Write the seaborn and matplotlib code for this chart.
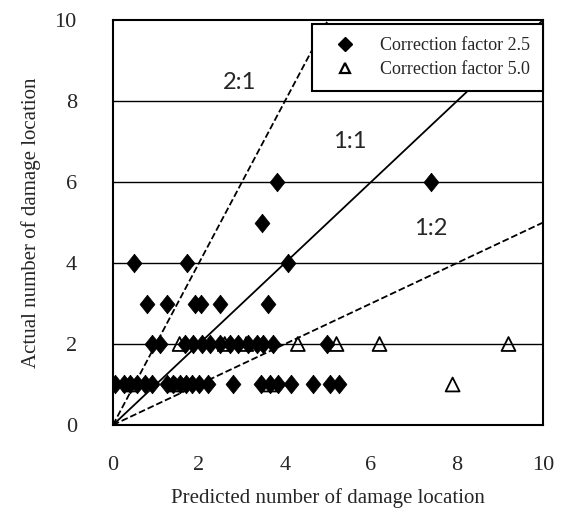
import numpy as np
import pandas as pd
import seaborn as sns
import matplotlib
matplotlib.use("Agg")
import matplotlib.pyplot as plt
from matplotlib.lines import Line2D

# Correction factor 2.5 (filled diamonds)
cf25_x = [0.05, 0.25, 0.4, 0.55, 0.75, 0.9, 1.25, 1.4, 1.55, 1.7, 1.85, 2.0, 2.2,
          2.8, 3.45, 3.65, 3.85, 4.15, 4.65, 5.05, 5.25,
          0.9, 1.1, 1.67, 1.86, 2.07, 2.26, 2.49, 2.72, 2.91, 3.14, 3.35, 3.49, 3.72, 4.97,
          0.8, 1.25, 1.9, 2.05, 2.5, 3.6,
          0.5, 1.72, 4.07,
          3.47,
          3.81, 7.4]
cf25_y = [1] * 21 + [2] * 14 + [3] * 6 + [4] * 3 + [5] + [6, 6]

# Correction factor 5.0 (open triangles)
cf50_x = [0.4, 1.45, 3.65, 7.9,
          1.55, 2.6, 3.1, 4.3, 5.2, 6.2, 9.2]
cf50_y = [1, 1, 1, 1,
          2, 2, 2, 2, 2, 2, 2]

series_names = ["Correction factor 2.5", "Correction factor 5.0"]
ratio_labels = ["2:1", "1:1", "1:2"]
ratio_slopes = [2.0, 1.0, 0.5]
ratio_label_pos = [(2.95, 8.45), (5.5, 7.0), (7.4, 4.85)]

df = pd.DataFrame({
    "pred": cf25_x + cf50_x,
    "actual": cf25_y + cf50_y,
    "series": [series_names[0]] * len(cf25_x) + [series_names[1]] * len(cf50_x),
})

sns.set_style("white")
plt.rcParams["font.family"] = ["Liberation Serif", "DejaVu Serif"]

fig = plt.figure(figsize=(5.62, 5.17), dpi=100)
ax = fig.add_axes([0.201, 0.178, 0.765, 0.783])

# horizontal gridlines
for yv in [2, 4, 6, 8]:
    ax.axhline(yv, color="black", lw=1.0, zorder=1)

# ratio lines
xs = np.array([0, 10])
styles = ["--", "-", "--"]
for s, ls in zip(ratio_slopes, styles):
    ax.plot(xs, s * xs, ls=ls, color="black", lw=1.3, zorder=2)
for lab, (tx, ty) in zip(ratio_labels, ratio_label_pos):
    ax.text(tx, ty, lab, fontsize=17, family=["Lato", "DejaVu Sans"],
            ha="center", va="center", zorder=3)

tall_diamond = [(0, 1), (0.8, 0), (0, -1), (-0.8, 0), (0, 1)]

sns.scatterplot(data=df[df.series == series_names[1]], x="pred", y="actual",
                marker="^", s=100, facecolor="none", edgecolor="black",
                linewidth=1.3, ax=ax, zorder=4, legend=False)
sns.scatterplot(data=df[df.series == series_names[0]], x="pred", y="actual",
                marker=tall_diamond, s=180, color="black", edgecolor="black",
                linewidth=0.5, ax=ax, zorder=5, legend=False)

handles = [
    Line2D([], [], ls="none", marker="D", color="black", markersize=7),
    Line2D([], [], ls="none", marker="^", markerfacecolor="none",
           markeredgecolor="black", markeredgewidth=1.6, markersize=7),
]
leg = ax.legend(handles, series_names, loc="upper right",
                bbox_to_anchor=(1.0, 0.99), fontsize=13, frameon=True,
                fancybox=False, framealpha=1, edgecolor="black",
                borderaxespad=0, handlelength=2.3, handletextpad=0.8,
                borderpad=0.7, labelspacing=0.4)
leg.get_frame().set_linewidth(1.5)
leg.set_zorder(10)

ax.set_xlim(0, 10)
ax.set_ylim(0, 10)
ax.set_xticks([0, 2, 4, 6, 8, 10])
ax.set_yticks([0, 2, 4, 6, 8, 10])
ax.tick_params(axis="x", length=0, pad=22, labelsize=16)
ax.tick_params(axis="y", length=0, pad=26, labelsize=16)
for sp in ax.spines.values():
    sp.set_visible(True)
    sp.set_color("black")
    sp.set_linewidth(1.5)

ax.set_xlabel("Predicted number of damage location", fontsize=15, labelpad=10)
ax.set_ylabel("Actual number of damage location", fontsize=15, labelpad=10)

fig.savefig("out.png", dpi=100)
